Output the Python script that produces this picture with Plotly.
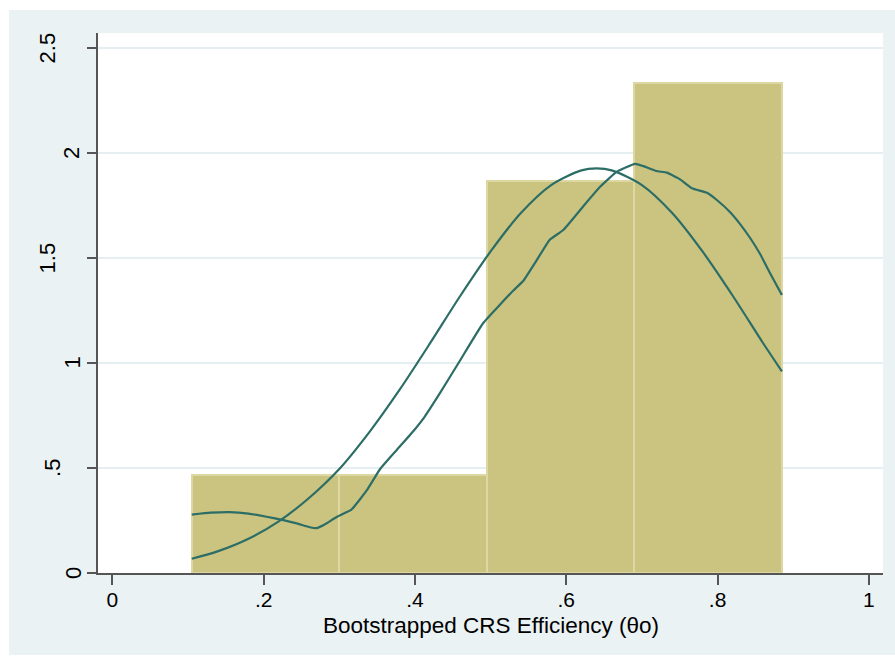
import plotly.graph_objects as go

# Histogram of bootstrapped efficiency scores (density scale)
bin_left = [0.105, 0.300, 0.495, 0.690]
bin_width = 0.195
bin_density = [0.466, 0.466, 1.865, 2.331]

# Normal density overlay
normal_x = [0.105, 0.14, 0.18, 0.22, 0.26, 0.30, 0.34, 0.38, 0.42, 0.46, 0.50,
            0.54, 0.58, 0.62, 0.64, 0.66, 0.70, 0.74, 0.78, 0.82, 0.86, 0.885]
normal_y = [0.068, 0.104, 0.163, 0.246, 0.357, 0.495, 0.672, 0.874, 1.094, 1.320, 1.531,
            1.714, 1.847, 1.917, 1.926, 1.917, 1.847, 1.714, 1.531, 1.320, 1.095, 0.960]

# Kernel density overlay
kernel_x = [0.105, 0.130, 0.155, 0.180, 0.204, 0.226, 0.245, 0.261, 0.270, 0.280,
            0.297, 0.316, 0.336, 0.354, 0.376, 0.398, 0.413, 0.433, 0.460, 0.490,
            0.512, 0.530, 0.543, 0.561, 0.578, 0.596, 0.622, 0.645, 0.667, 0.691,
            0.702, 0.719, 0.733, 0.750, 0.766, 0.786, 0.799, 0.816, 0.830, 0.843,
            0.856, 0.869, 0.885]
kernel_y = [0.278, 0.287, 0.290, 0.283, 0.268, 0.252, 0.235, 0.218, 0.214, 0.230,
            0.268, 0.302, 0.392, 0.495, 0.586, 0.676, 0.745, 0.856, 1.014, 1.189,
            1.276, 1.345, 1.390, 1.490, 1.586, 1.633, 1.744, 1.840, 1.911, 1.948,
            1.937, 1.914, 1.906, 1.875, 1.832, 1.810, 1.776, 1.720, 1.660, 1.595,
            1.520, 1.430, 1.324]

x_ticks = [0, 0.2, 0.4, 0.6, 0.8, 1.0]
x_tick_labels = ["0", ".2", ".4", ".6", ".8", "1"]
y_ticks = [0, 0.5, 1.0, 1.5, 2.0, 2.5]
y_tick_labels = ["0", ".5", "1", "1.5", "2", "2.5"]
x_title = "Bootstrapped CRS Efficiency (θo)"

W, H = 895, 656
ML, MR, MT, MB = 98, 12, 33, 83
PW, PH = W - ML - MR, H - MT - MB

FONT = "Liberation Sans, Arial, Helvetica, sans-serif"
BAR_FILL = "#cbc380"
BAR_EDGE = "#ddd7a3"
LINE = "#2c6e66"
OUTER_BG = "#eaf2f3"
GRID = "#e5eef0"
AXIS = "#555555"


def px_x(p):
    return (p - ML) / PW


def px_y(p):
    return (H - MB - p) / PH


fig = go.Figure()

fig.add_trace(go.Bar(
    x=bin_left, y=bin_density, width=[bin_width] * len(bin_left), offset=0,
    marker=dict(color=BAR_FILL, line=dict(color=BAR_EDGE, width=2)),
    hoverinfo="skip", showlegend=False,
))
fig.add_trace(go.Scatter(
    x=normal_x, y=normal_y, mode="lines",
    line=dict(color=LINE, width=2.2, shape="spline", smoothing=0.8),
    showlegend=False,
))
fig.add_trace(go.Scatter(
    x=kernel_x, y=kernel_y, mode="lines",
    line=dict(color=LINE, width=2.2, shape="spline", smoothing=0.4),
    showlegend=False,
))

# white page edge around the graph region
shapes = []
for x0, x1, y0, y1 in [
    (0, 9, 0, H), (0, W, 0, 10), (0, W, 655, H),
]:
    shapes.append(dict(
        type="rect", xref="paper", yref="paper",
        x0=px_x(x0), x1=px_x(x1), y0=px_y(y1), y1=px_y(y0),
        fillcolor="white", line=dict(width=0), layer="below",
    ))

# rotated y tick labels
y_label_shift = {"0": -25, ".5": -45, "1": -25.5, "1.5": -50.5, "2": -26, "2.5": -50.5}
annotations = []
for v, t in zip(y_ticks, y_tick_labels):
    annotations.append(dict(
        x=0, xref="paper", y=v, yref="y", text=t, showarrow=False,
        textangle=-90, xanchor="center", yanchor="middle",
        xshift=y_label_shift[t],
        font=dict(family=FONT, size=22, color="black"),
    ))
annotations.append(dict(
    x=0.5, xref="paper", y=px_y(625), yref="paper", text=x_title,
    showarrow=False, xanchor="center", yanchor="middle",
    font=dict(family=FONT, size=22.5, color="black"),
))

fig.update_layout(
    width=W, height=H,
    margin=dict(l=ML, r=MR, t=MT, b=MB, autoexpand=False),
    paper_bgcolor=OUTER_BG, plot_bgcolor="white",
    bargap=0, shapes=shapes, annotations=annotations,
    font=dict(family=FONT, size=22, color="black"),
    xaxis=dict(
        range=[-0.0189, 1.0186], tickvals=x_ticks, ticktext=x_tick_labels,
        ticks="outside", ticklen=10, tickwidth=1.5, tickcolor=AXIS,
        ticklabelstandoff=-3,
        showline=True, linecolor=AXIS, linewidth=2,
        showgrid=False, zeroline=False,
        tickfont=dict(family=FONT, size=21, color="black"),
    ),
    yaxis=dict(
        range=[0, 2.571], tickvals=y_ticks, showticklabels=False,
        ticks="outside", ticklen=9, tickwidth=1.5, tickcolor=AXIS,
        showline=True, linecolor=AXIS, linewidth=2,
        showgrid=True, gridcolor=GRID, gridwidth=2, zeroline=False,
    ),
)

fig.write_html("out.html")
